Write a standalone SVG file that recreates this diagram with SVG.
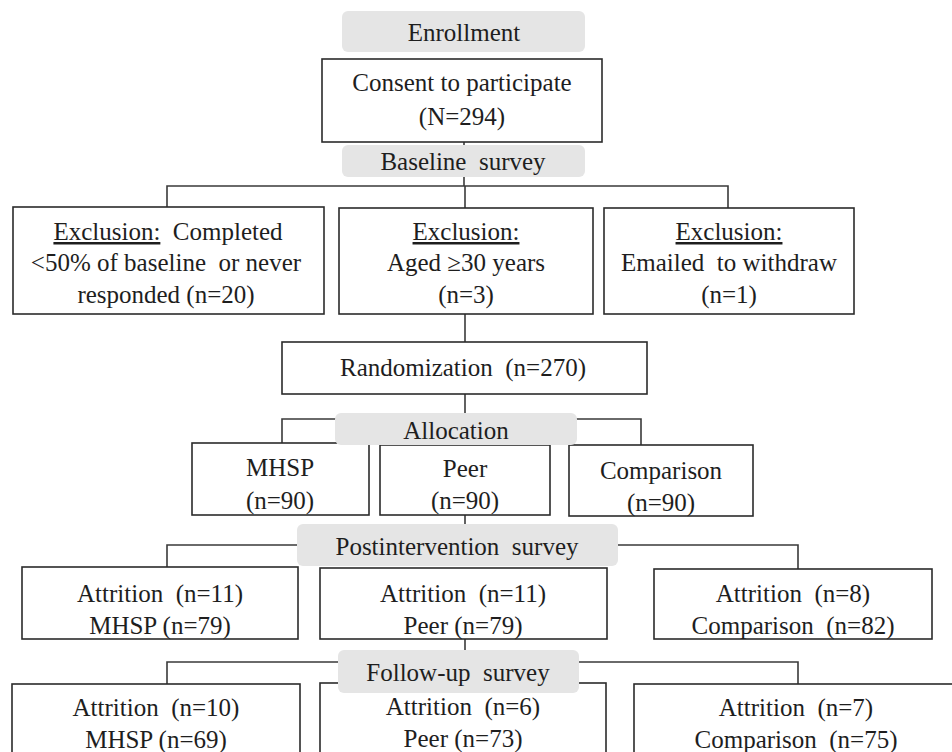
<svg xmlns="http://www.w3.org/2000/svg" width="952" height="752" viewBox="0 0 952 752">
<style>
  .box { fill: #ffffff; stroke: #2b2b2b; stroke-width: 1.6; }
  .lbl { fill: #e5e5e5; stroke: none; }
  .ln { fill: none; stroke: #3a3a3a; stroke-width: 1.6; }
  text { font-family: "Liberation Serif", "Times New Roman", serif; font-size: 25px; fill: #1e1e1e; text-anchor: middle; white-space: pre; }
  .u { text-decoration: underline; }
</style>
<rect x="0" y="0" width="952" height="752" fill="#ffffff"/>
<g id="connectors">
  <line class="ln" x1="464" y1="142" x2="464" y2="146"/>
  <line class="ln" x1="464" y1="176" x2="464" y2="186"/>
  <polyline class="ln" points="167,207 167,186 728,186 728,208"/>
  <line class="ln" x1="465" y1="186" x2="465" y2="208"/>
  <line class="ln" x1="465" y1="314" x2="465" y2="342"/>
  <line class="ln" x1="465" y1="394" x2="465" y2="414"/>
  <polyline class="ln" points="336,419 282,419 282,443"/>
  <polyline class="ln" points="576,419 641,419 641,445"/>
  <line class="ln" x1="465" y1="515" x2="465" y2="525"/>
  <polyline class="ln" points="298,545 167,545 167,567"/>
  <polyline class="ln" points="617,545 798,545 798,569"/>
  <line class="ln" x1="465" y1="639" x2="465" y2="651"/>
  <polyline class="ln" points="339,662 167,662 167,684"/>
  <polyline class="ln" points="578,662 798,662 798,684"/>
</g>
<g id="enrollment">
  <rect class="lbl" x="342" y="11" width="243" height="41" rx="6"/>
  <text x="464" y="41">Enrollment</text>
</g>
<g id="consent">
  <rect class="box" x="322" y="59" width="280" height="83"/>
  <text x="462" y="91">Consent to participate</text>
  <text x="462" y="125">(N=294)</text>
</g>
<g id="baseline">
  <rect class="lbl" x="342" y="145" width="243" height="32" rx="6"/>
  <text x="463" y="170">Baseline  survey</text>
</g>
<g id="excl1">
  <rect class="box" x="13" y="207" width="311" height="107"/>
  <text x="168" y="240"><tspan class="u">Exclusion:</tspan>  Completed</text>
  <text x="166" y="271">&lt;50% of baseline  or never</text>
  <text x="166" y="303">responded (n=20)</text>
</g>
<g id="excl2">
  <rect class="box" x="339" y="208" width="254" height="106"/>
  <text x="466" y="240"><tspan class="u">Exclusion:</tspan></text>
  <text x="466" y="271">Aged ≥30 years</text>
  <text x="466" y="303">(n=3)</text>
</g>
<g id="excl3">
  <rect class="box" x="604" y="208" width="250" height="106"/>
  <text x="729" y="240"><tspan class="u">Exclusion:</tspan></text>
  <text x="729" y="271">Emailed  to withdraw</text>
  <text x="729" y="303">(n=1)</text>
</g>
<g id="randomization">
  <rect class="box" x="282" y="342" width="365" height="52"/>
  <text x="463" y="376">Randomization  (n=270)</text>
</g>
<g id="alloc-mhsp">
  <rect class="box" x="192" y="443" width="177" height="72"/>
  <text x="280" y="476">MHSP</text>
  <text x="280" y="509">(n=90)</text>
</g>
<g id="alloc-peer">
  <rect class="box" x="380" y="445" width="170" height="70"/>
  <text x="465" y="477">Peer</text>
  <text x="465" y="509">(n=90)</text>
</g>
<g id="alloc-comparison">
  <rect class="box" x="569" y="445" width="184" height="71"/>
  <text x="661" y="479">Comparison</text>
  <text x="661" y="511">(n=90)</text>
</g>
<g id="allocation">
  <rect class="lbl" x="335" y="413" width="242" height="32" rx="6"/>
  <text x="456" y="439">Allocation</text>
</g>
<g id="postintervention">
  <rect class="lbl" x="297" y="524" width="321" height="42" rx="6"/>
  <text x="457" y="555">Postintervention  survey</text>
</g>
<g id="post-mhsp">
  <rect class="box" x="22" y="567" width="276" height="72"/>
  <text x="160" y="602">Attrition  (n=11)</text>
  <text x="160" y="634">MHSP (n=79)</text>
</g>
<g id="post-peer">
  <rect class="box" x="320" y="568" width="287" height="71"/>
  <text x="463" y="602">Attrition  (n=11)</text>
  <text x="463" y="634">Peer (n=79)</text>
</g>
<g id="post-comparison">
  <rect class="box" x="654" y="569" width="278" height="70"/>
  <text x="793" y="602">Attrition  (n=8)</text>
  <text x="793" y="634">Comparison  (n=82)</text>
</g>
<g id="follow-mhsp">
  <rect class="box" x="12" y="684" width="288" height="90"/>
  <text x="156" y="716">Attrition  (n=10)</text>
  <text x="156" y="748">MHSP (n=69)</text>
</g>
<g id="follow-peer">
  <rect class="box" x="320" y="683" width="286" height="90"/>
  <text x="463" y="715">Attrition  (n=6)</text>
  <text x="463" y="747">Peer (n=73)</text>
</g>
<g id="follow-comparison">
  <rect class="box" x="634" y="684" width="330" height="90"/>
  <text x="796" y="716">Attrition  (n=7)</text>
  <text x="796" y="748">Comparison  (n=75)</text>
</g>
<g id="followup">
  <rect class="lbl" x="338" y="650" width="241" height="43" rx="6"/>
  <text x="458" y="681">Follow-up  survey</text>
</g>
</svg>
